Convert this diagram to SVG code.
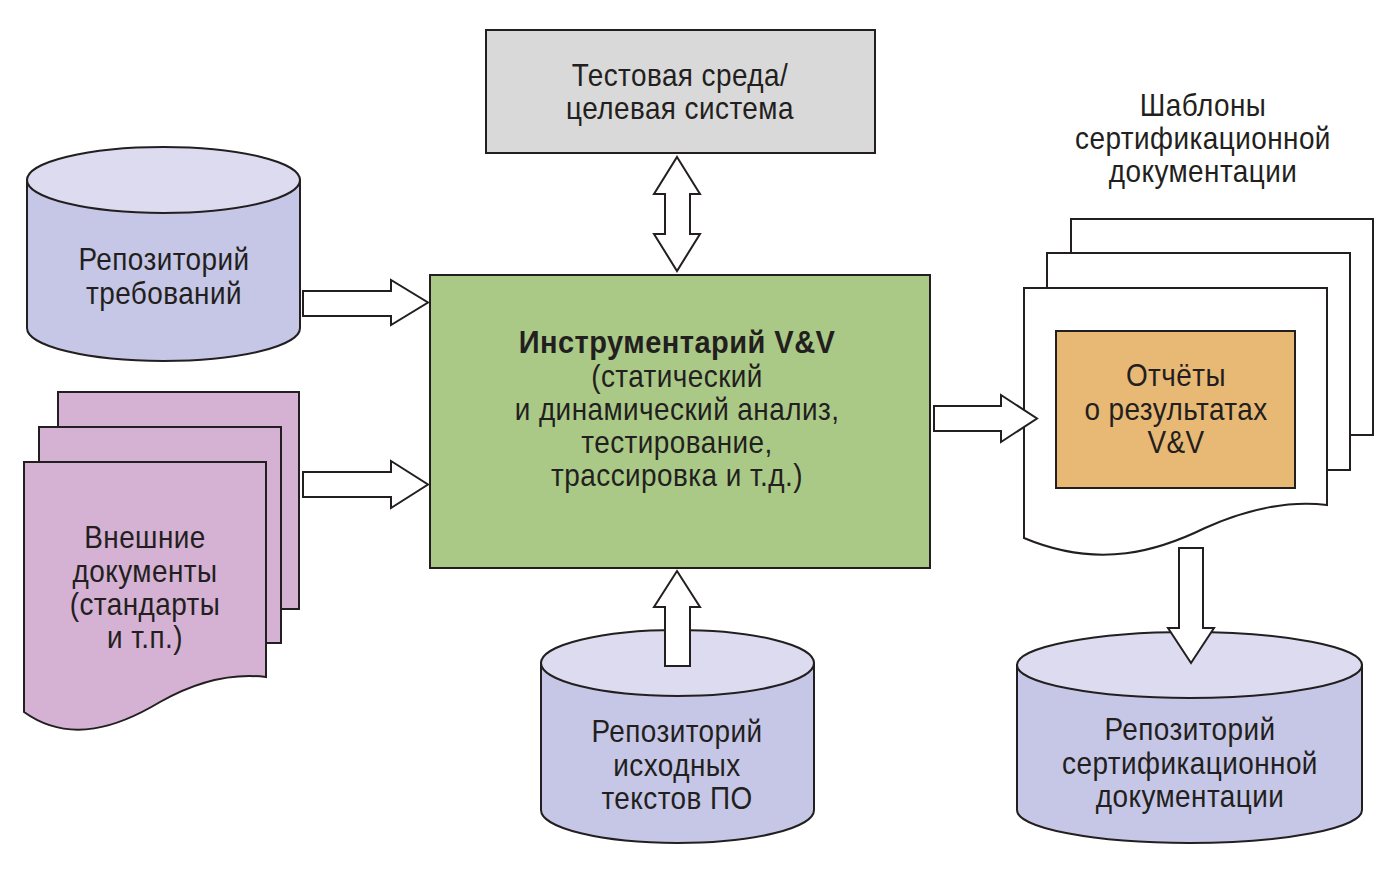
<svg xmlns="http://www.w3.org/2000/svg" width="1394" height="880" viewBox="0 0 1394 880">
<style>
.s{stroke:#231f20;stroke-width:2;stroke-linejoin:miter}
.cylTop{fill:#dcdbef}
.cylBody{fill:#c6c7e6}
.doc{fill:#d5b1d3}
.page{fill:#ffffff}
.arr{fill:#ffffff;stroke:#231f20;stroke-width:2}
text{font-family:"Liberation Sans",Arial,sans-serif;font-size:31px;fill:#231f20;text-anchor:middle;letter-spacing:0.5px}
.b{font-weight:bold}
</style>
<rect width="1394" height="880" fill="#ffffff"/>

<g id="test-env">
<rect class="s" x="486" y="30" width="389" height="123" fill="#d9d9d9"/>
<g transform="translate(680,0) scale(0.9,1)">
<text x="0" y="86">Тестовая среда/</text>
<text x="0" y="119">целевая система</text>
</g>
</g>

<g id="req-repo">
<path class="s cylBody" d="M27,180 V328 A136.5,33 0 0 0 300,328 V180 Z"/>
<ellipse class="s cylTop" cx="163.5" cy="180" rx="136.5" ry="33"/>
<g transform="translate(164,0) scale(0.9,1)">
<text x="0" y="270">Репозиторий</text>
<text x="0" y="304">требований</text>
</g>
</g>

<g id="ext-docs">
<path class="s doc" d="M58,392 H299 V609 H58 Z"/>
<path class="s doc" d="M39,427 H281 V643 H39 Z"/>
<path class="s doc" d="M24,462 H266 V677 C225,672 190,685 160,702 C120,726 70,745 24,712 Z"/>
<g transform="translate(145,0) scale(0.9,1)">
<text x="0" y="548">Внешние</text>
<text x="0" y="582">документы</text>
<text x="0" y="615">(стандарты</text>
<text x="0" y="648">и т.п.)</text>
</g>
</g>

<g id="vv-tools">
<rect class="s" x="430" y="275" width="500" height="293" fill="#aac987"/>
<g transform="translate(677,0) scale(0.9,1)">
<text class="b" x="0" y="353" transform="scale(1.04,1)">Инструментарий V&amp;V</text>
<text x="0" y="387">(статический</text>
<text x="0" y="420">и динамический анализ,</text>
<text x="0" y="453">тестирование,</text>
<text x="0" y="486">трассировка и т.д.)</text>
</g>
</g>

<g id="src-repo">
<path class="s cylBody" d="M541,663 V810 A136.5,33 0 0 0 814,810 V663 Z"/>
<ellipse class="s cylTop" cx="677.5" cy="663" rx="136.5" ry="33"/>
</g>

<g id="cert-templates">
<g transform="translate(1203,0) scale(0.9,1)">
<text x="0" y="116">Шаблоны</text>
<text x="0" y="149">сертификационной</text>
<text x="0" y="182">документации</text>
</g>
<path class="s page" d="M1071,219 H1373 V435 H1071 Z"/>
<path class="s page" d="M1047,253 H1350 V470 H1047 Z"/>
<path class="s page" d="M1024,288 H1327 V505 C1285,500 1245,510 1205,528 C1160,550 1100,570 1024,538 Z"/>
</g>

<g id="reports">
<rect class="s" x="1056" y="331" width="239" height="157" fill="#e8b975"/>
<g transform="translate(1176,0) scale(0.9,1)">
<text x="0" y="386">Отчёты</text>
<text x="0" y="420">о результатах</text>
<text x="0" y="453">V&amp;V</text>
</g>
</g>

<g id="cert-repo">
<path class="s cylBody" d="M1017,665 V810 A172.5,33 0 0 0 1362,810 V665 Z"/>
<ellipse class="s cylTop" cx="1189.5" cy="665" rx="172.5" ry="33"/>
<g transform="translate(1190,0) scale(0.9,1)">
<text x="0" y="740">Репозиторий</text>
<text x="0" y="774">сертификационной</text>
<text x="0" y="807">документации</text>
</g>
</g>

<g id="connectors">
<polygon class="arr" points="303,291 391,291 391,280 428,302.5 391,325 391,316 303,316"/>
<polygon class="arr" points="303,472 391,472 391,461 428,484.5 391,508 391,497 303,497"/>
<polygon class="arr" points="677,157 700,194 690,194 690,234 700,234 677,271 654,234 665,234 665,194 654,194"/>
<polygon class="arr" points="677,571 700,607 690,607 690,666 665,666 665,607 654,607"/>
<polygon class="arr" points="934,406 1001,406 1001,395 1037,418.5 1001,442 1001,431 934,431"/>
<polygon class="arr" points="1179,548 1203,548 1203,628 1214,628 1191,663 1168,628 1179,628"/>
</g>

<g id="src-repo-label">
<g transform="translate(677,0) scale(0.9,1)">
<text x="0" y="742">Репозиторий</text>
<text x="0" y="776">исходных</text>
<text x="0" y="809">текстов ПО</text>
</g>
</g>
</svg>
